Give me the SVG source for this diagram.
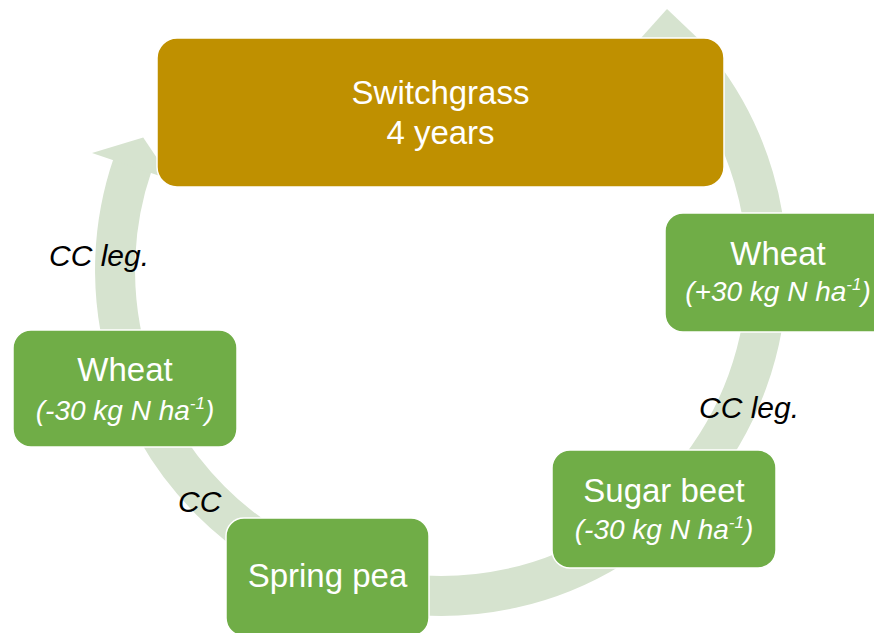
<svg xmlns="http://www.w3.org/2000/svg" width="874" height="633" viewBox="0 0 874 633">
<style>
.band{fill:none;stroke:#D6E3CF;stroke-width:40;stroke-linecap:butt}
.head{fill:#D6E3CF}
.box{stroke:#FFFFFF;stroke-width:1.5}
.green{fill:#70AD47}
.gold{fill:#BF9000}
.t{font-family:"Liberation Sans",Arial,sans-serif;fill:#FFFFFF;text-anchor:middle;font-size:33px}
.i{font-family:"Liberation Sans",Arial,sans-serif;fill:#FFFFFF;text-anchor:middle;font-size:28px;font-style:italic}
.lab{font-family:"Liberation Sans",Arial,sans-serif;fill:#000000;font-size:30px;font-style:italic}
</style>
<rect width="874" height="633" fill="#FFFFFF"/>
<g id="connectors">
<path class="band" d="M697.9,69.3 A326,326 0 0 1 765.8,298.4"/>
<path class="band" d="M767,270 A326,326 0 0 1 690.7,479.6"/>
<path class="band" d="M690.7,479.6 A326,326 0 0 1 303.2,565.5"/>
<path class="band" d="M356.6,584.9 A326,326 0 0 1 126.1,354.4"/>
<path class="band" d="M134.7,381.5 A326,326 0 0 1 132.8,163.9"/>
<polygon class="head" points="92,153 143.2,137.4 171.7,179.9"/>
<polygon class="head" points="667,9 632,48 708,48"/>
</g>
<g id="labels">
<text class="lab" x="49" y="266">CC leg.</text>
<text class="lab" x="699" y="418">CC leg.</text>
<text class="lab" x="178" y="512">CC</text>
</g>
<g id="switchgrass">
<rect class="box gold" x="157" y="38" width="567" height="149" rx="20"/>
<text class="t" x="440.5" y="104">Switchgrass</text>
<text class="t" x="440.5" y="144">4 years</text>
</g>
<g id="wheat-right">
<rect class="box green" x="665" y="213" width="226" height="119" rx="18"/>
<text class="t" x="778" y="265">Wheat</text>
<text class="i" x="778" y="301">(+30 kg N ha<tspan font-size="17" dy="-11">-1</tspan><tspan dy="11">)</tspan></text>
</g>
<g id="sugar-beet">
<rect class="box green" x="552" y="450" width="224" height="118" rx="18"/>
<text class="t" x="664" y="502">Sugar beet</text>
<text class="i" x="664" y="539">(-30 kg N ha<tspan font-size="17" dy="-11">-1</tspan><tspan dy="11">)</tspan></text>
</g>
<g id="spring-pea">
<rect class="box green" x="226" y="518" width="203" height="118" rx="18"/>
<text class="t" x="327.5" y="587">Spring pea</text>
</g>
<g id="wheat-left">
<rect class="box green" x="13" y="330" width="224" height="117" rx="18"/>
<text class="t" x="125" y="381">Wheat</text>
<text class="i" x="125" y="420">(-30 kg N ha<tspan font-size="17" dy="-11">-1</tspan><tspan dy="11">)</tspan></text>
</g>
</svg>
